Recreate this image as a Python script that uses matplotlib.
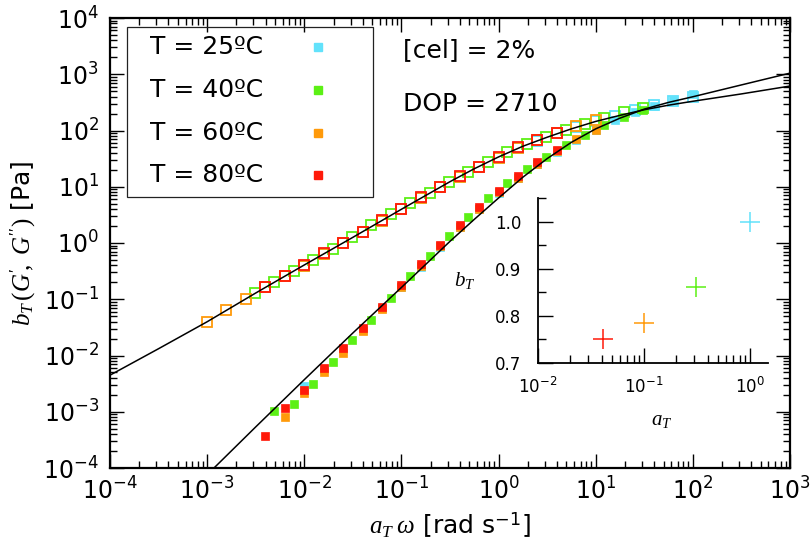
import numpy as np
import matplotlib
matplotlib.use("Agg")
import matplotlib.pyplot as plt
from matplotlib.patches import Rectangle
from matplotlib.ticker import LogLocator, MultipleLocator, NullFormatter, FormatStrFormatter

plt.rcParams['font.family'] = ['DejaVu Sans']
plt.rcParams['mathtext.fontset'] = 'custom'
plt.rcParams['mathtext.it'] = 'Liberation Serif:italic'
plt.rcParams['mathtext.rm'] = 'Liberation Serif'
plt.rcParams['axes.unicode_minus'] = False

# --- master curve data (shifted frequency a_T*omega, moduli in Pa) ---
temps = ["T = 25ºC", "T = 40ºC", "T = 60ºC", "T = 80ºC"]
colors = ["#62e2fb", "#5cf015", "#ff9a0a", "#ff1a0a"]

x_25 = [0.01, 0.0158, 0.0251, 0.0398, 0.0631, 0.1, 0.158, 0.251, 0.398, 0.631,
        1.0, 1.58, 2.51, 3.98, 6.31, 10.0, 15.8, 25.1, 39.8, 63.1, 100.0]
gp_25 = [0.00288, 0.00575, 0.0132, 0.0282, 0.0692, 0.162, 0.380, 0.851, 1.91, 3.98,
         7.76, 14.1, 25.1, 41.7, 67.6, 102, 155, 214, 275, 355, 437]
gpp_25 = [0.398, 0.631, 1.00, 1.58, 2.51, 3.98, 6.31, 9.77, 15.1, 22.4,
          33.1, 49.0, 66.1, 89.1, 117, 148, 182, 229, 282, 331, 389]

x_40 = [0.0031, 0.0049, 0.0078, 0.0123, 0.0196, 0.031, 0.049, 0.078, 0.123, 0.196,
        0.31, 0.49, 0.78, 1.23, 1.96, 3.1, 4.9, 7.8, 12.3, 19.6, 31.0]
gp_40 = [np.nan, 0.00105, 0.00138, 0.00309, 0.00776, 0.0191, 0.0427, 0.107, 0.257, 0.589,
         1.32, 2.95, 6.31, 11.5, 20.4, 33.9, 55.0, 83.2, 123, 174, 234]
gpp_40 = [0.128, 0.200, 0.318, 0.501, 0.782, 1.29, 2.09, 3.24, 5.08, 7.83,
          12.3, 18.6, 27.5, 40.7, 57.5, 77.6, 102, 129, 166, 209, 251]

x_60 = [0.001, 0.00158, 0.00251, 0.00398, 0.00631, 0.01, 0.0158, 0.0251, 0.0398, 0.0631,
        0.1, 0.158, 0.251, 0.398, 0.631, 1.0, 1.58, 2.51, 3.98, 6.31, 10.0]
gp_60 = [np.nan, np.nan, np.nan, np.nan, 0.000794, 0.00214, 0.00513, 0.0110, 0.0275, 0.0676,
         0.166, 0.389, 0.871, 1.95, 4.07, 7.94, 14.5, 25.7, 42.7, 69.2, 102]
gpp_60 = [0.0398, 0.0631, 0.100, 0.162, 0.257, 0.398, 0.646, 1.00, 1.58, 2.51,
          3.98, 6.31, 9.77, 15.1, 22.4, 33.1, 49.0, 67.6, 89.1, 120, 155]

x_80 = [0.00398, 0.00631, 0.01, 0.0158, 0.0251, 0.0398, 0.0631, 0.1, 0.158, 0.251,
        0.398, 0.631, 1.0, 1.58, 2.51, 3.98]
gp_80 = [0.000372, 0.00115, 0.00245, 0.00589, 0.0138, 0.0302, 0.0741, 0.178, 0.417, 0.933,
         2.09, 4.37, 8.51, 15.5, 27.5, 44.7]
gpp_80 = [0.166, 0.257, 0.407, 0.661, 1.02, 1.58, 2.57, 3.98, 6.46, 10.0,
          15.5, 22.9, 33.9, 50.1, 67.6, 91.2]

# model fits
fit_x_gpp = [1e-4, 3.16e-4, 1e-3, 3.16e-3, 0.01, 0.0316, 0.1, 0.316, 0.562, 1.0,
             1.78, 3.16, 5.62, 10.0, 17.8, 31.6, 56.2, 100, 316, 1000]
fit_gpp = [0.00447, 0.0132, 0.0398, 0.129, 0.407, 1.26, 3.98, 12.3, 20.9, 33.9,
           52.5, 75.9, 107, 145, 186, 234, 282, 331, 447, 617]
fit_x_gp = [1e-3, 3.16e-3, 0.01, 0.0316, 0.1, 0.316, 0.562, 1.0, 1.78, 3.16,
            5.62, 10.0, 17.8, 31.6, 56.2, 100, 316, 1000]
fit_gp = [7.59e-5, 5.37e-4, 3.72e-3, 0.0251, 0.162, 1.07, 2.63, 6.31, 14.8, 31.6,
          61.7, 107, 166, 240, 316, 398, 646, 1047]

# shift factors (inset)
a_T = [1.0, 0.31, 0.1, 0.041]
b_T = [1.0, 0.861, 0.785, 0.75]

series = [(x_25, gp_25, gpp_25), (x_40, gp_40, gpp_40),
          (x_60, gp_60, gpp_60), (x_80, gp_80, gpp_80)]

fig = plt.figure(figsize=(8.11, 5.57), dpi=100)
ax = fig.add_axes([110 / 811, 89 / 557, 680 / 811, 450 / 557])

for (xs, gp, gpp), c in zip(series, colors):
    ax.plot(xs, gp, 's', ms=5.8, color=c, mec=c, mew=0.5, ls='none', zorder=3)
    ax.plot(xs, gpp, 's', ms=6.8, mfc='none', mec=c, mew=1.3, ls='none', zorder=3)

ax.plot(fit_x_gpp, fit_gpp, color='black', lw=1.1, zorder=4)
ax.plot(fit_x_gp, fit_gp, color='black', lw=1.1, zorder=4)

ax.set_xscale('log')
ax.set_yscale('log')
ax.set_xlim(1e-4, 1e3)
ax.set_ylim(1e-4, 1e4)
for axis in (ax.xaxis, ax.yaxis):
    axis.set_major_locator(LogLocator(base=10, numticks=20))
    axis.set_minor_locator(LogLocator(base=10, subs=np.arange(2, 10), numticks=100))
    axis.set_minor_formatter(NullFormatter())
ax.tick_params(which='both', direction='in', top=True, right=True, width=1)
ax.tick_params(which='major', length=10, labelsize=17)
ax.tick_params(axis='x', which='major', pad=7)
ax.tick_params(axis='y', which='major', pad=8)
ax.tick_params(which='minor', length=5)
for s in ax.spines.values():
    s.set_linewidth(1.6)

ax.set_xlabel(r"$a_T\;\omega$ [rad s$^{\mathdefault{-1}}$]", fontsize=18, labelpad=4)
ax.set_ylabel(r"$b_T\,(G^{\prime}\!,\ G^{\prime\prime})$ [Pa]", fontsize=18, labelpad=4)

# legend drawn by hand (text left, marker right)
ax.add_patch(Rectangle((0.0246, 0.6029), 0.3626, 0.3778, transform=ax.transAxes,
                       fill=False, edgecolor='#222222', lw=0.9, zorder=5))
rows = [0.9356, 0.8407, 0.7451, 0.6511]
for lab, c, r in zip(temps, colors, rows):
    ax.text(0.0588, r, lab, transform=ax.transAxes, fontsize=18, va='center', zorder=6)
    ax.plot([0.3059], [r], 's', ms=5.8, color=c, transform=ax.transAxes,
            clip_on=False, zorder=6)

ax.text(0.4304, 0.929, "[cel] = 2%", transform=ax.transAxes, fontsize=18, va='center')
ax.text(0.4304, 0.809, "DOP = 2710", transform=ax.transAxes, fontsize=18, va='center')

# inset: shift factors
ax_in = fig.add_axes([537.7 / 811, (557 - 362.7) / 557, 230.3 / 811, 164.7 / 557])
ax_in.patch.set_alpha(0)
for aT, bT, c in zip(a_T, b_T, colors):
    ax_in.plot([aT], [bT], '+', ms=14, mew=1.1, color=c)
ax_in.set_xscale('log')
ax_in.set_xlim(0.01, 1.48)
ax_in.set_ylim(0.7, 1.05)
ax_in.xaxis.set_major_locator(LogLocator(base=10, numticks=10))
ax_in.xaxis.set_minor_locator(LogLocator(base=10, subs=np.arange(2, 10), numticks=50))
ax_in.xaxis.set_minor_formatter(NullFormatter())
ax_in.yaxis.set_major_locator(MultipleLocator(0.1))
ax_in.yaxis.set_minor_locator(MultipleLocator(0.05))
ax_in.yaxis.set_major_formatter(FormatStrFormatter('%.1f'))
ax_in.spines['top'].set_visible(False)
ax_in.spines['right'].set_visible(False)
for s in ('left', 'bottom'):
    ax_in.spines[s].set_linewidth(1.3)
ax_in.tick_params(which='both', direction='in', width=1)
ax_in.tick_params(which='major', length=11, labelsize=12)
ax_in.tick_params(axis='y', which='major', pad=12)
ax_in.tick_params(axis='x', which='major', pad=10)
ax_in.tick_params(which='minor', length=5.5)
ax_in.set_xlabel(r"$a_T$", fontsize=15)
ax_in.xaxis.set_label_coords(0.538, -0.348)
ax_in.xaxis.label.set_va('center')
ax_in.set_ylabel(r"$b_T$", fontsize=15, rotation=0, va='center', ha='center')
ax_in.yaxis.set_label_coords(-0.316, 0.502)

fig.savefig("out.png", dpi=100)
